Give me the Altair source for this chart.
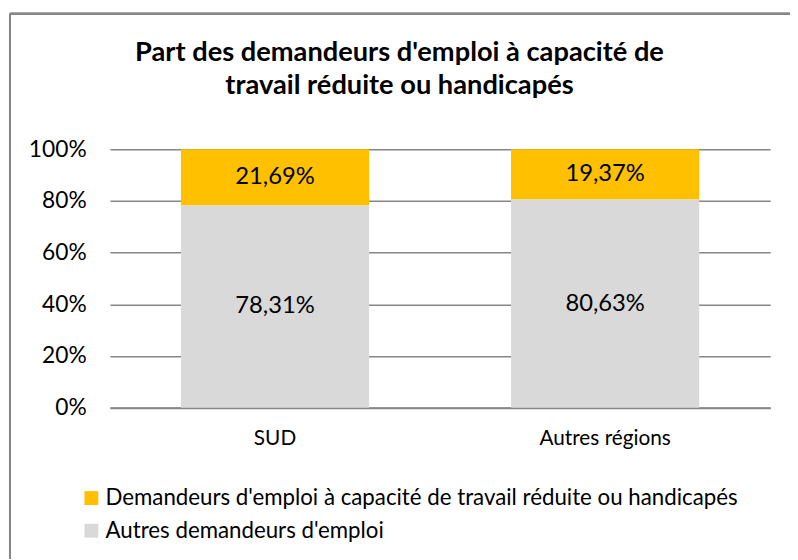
import altair as alt
import pandas as pd

regions = ["SUD", "Autres régions"]
series = ["Demandeurs d'emploi à capacité de travail réduite ou handicapés",
          "Autres demandeurs d'emploi"]
handicap = [21.69, 19.37]
autres = [78.31, 80.63]
colors = ["#FFC000", "#D9D9D9"]

rows = []
for i, r in enumerate(regions):
    for j, (s, v) in enumerate(zip(series, [handicap[i], autres[i]])):
        rows.append({"region": r, "serie": s, "val": v / 100.0,
                     "ordre": 1 - j,
                     "label": f"{v:.2f}".replace(".", ",") + "%"})
df = pd.DataFrame(rows)

FONT = "Lato"

base = alt.Chart(df)

bars = base.mark_bar().encode(
    x=alt.X("region:N", sort=regions, title=None,
            scale=alt.Scale(paddingInner=0.43, paddingOuter=0.215),
            axis=alt.Axis(labelAngle=0, labelFontSize=21, labelPadding=20,
                          ticks=False, domain=True, domainColor="#868686",
                          domainWidth=2, labelColor="#000000", labelFont=FONT)),
    y=alt.Y("val:Q", stack="zero", title=None,
            scale=alt.Scale(domain=[0, 1]),
            axis=alt.Axis(format=".0%", values=[0, 0.2, 0.4, 0.6, 0.8, 1.0],
                          labelFontSize=23, labelPadding=24, ticks=False,
                          domain=False, grid=True, gridColor="#868686",
                          gridWidth=1.5, labelColor="#000000", labelFont=FONT)),
    color=alt.Color("serie:N", sort=series,
                    scale=alt.Scale(domain=series, range=colors),
                    legend=alt.Legend(title=None, orient="none", legendX=-30,
                                      legendY=341, symbolType="square",
                                      symbolSize=196, symbolStrokeWidth=0,
                                      labelFontSize=22.5, labelFont=FONT,
                                      labelColor="#000000", rowPadding=10,
                                      symbolOffset=0, labelOffset=3,
                                      labelLimit=1000)),
    order=alt.Order("ordre:Q"),
)

texts = base.mark_text(fontSize=24, font=FONT, color="#000000").encode(
    x=alt.X("region:N", sort=regions),
    y=alt.Y("val:Q", stack="zero", bandPosition=0.5),
    detail="serie:N",
    text="label:N",
    order=alt.Order("ordre:Q"),
)

border_left = alt.Chart(df).mark_rule(color="#868686", strokeWidth=2).encode(
    x=alt.value(-101), y=alt.value(-137), y2=alt.value(500))
border_top = alt.Chart(df).mark_rule(color="#868686", strokeWidth=2).encode(
    x=alt.value(-101), x2=alt.value(700), y=alt.value(-137))

chart = alt.layer(bars, texts, border_left, border_top).properties(
    width=667, height=261,
    autosize=alt.AutoSizeParams(type="none"),
    padding={"left": 103, "top": 140, "right": 20, "bottom": 150},
    title=alt.Title(["Part des demandeurs d'emploi à capacité de",
                     "travail réduite ou handicapés"],
                    fontSize=27.5, font=FONT, fontWeight="bold", color="#000000",
                    anchor="middle", dx=-41, offset=-110, lineHeight=34,
                    baseline="alphabetic"),
).configure_view(stroke=None)

chart.save("out.html", embed_options={"renderer": "svg", "actions": False})
